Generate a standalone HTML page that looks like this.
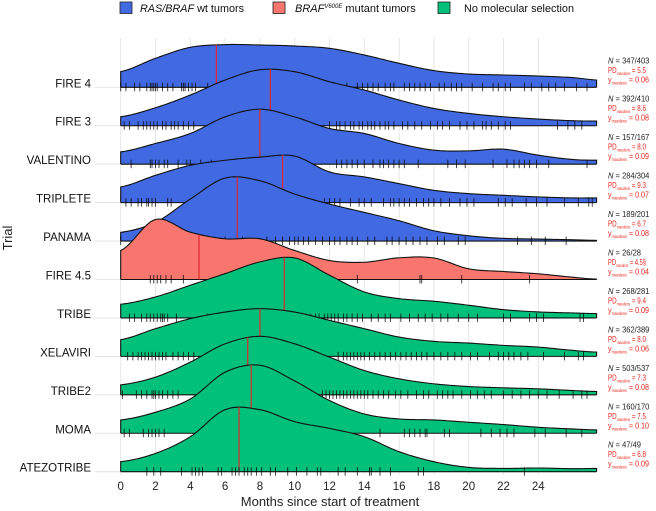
<!DOCTYPE html>
<html><head><meta charset="utf-8">
<style>
html,body{margin:0;padding:0;background:#fff;}
svg{display:block;font-family:"Liberation Sans",sans-serif;}
</style></head>
<body>
<svg id="chart" width="656" height="511" viewBox="0 0 656 511">
  <g id="legend">
    <g>
      <rect x="120" y="2" width="12" height="11.5" fill="#4169E1" stroke="#222" stroke-width="0.8"/>
      <text x="140" y="12" font-size="11" fill="#111" textLength="104" lengthAdjust="spacingAndGlyphs"><tspan font-style="italic">RAS/BRAF</tspan> wt tumors</text>
    </g>
    <g>
      <rect x="273" y="2" width="12" height="11.5" fill="#F8766D" stroke="#222" stroke-width="0.8"/>
      <text x="295" y="12" font-size="11" fill="#111"><tspan font-style="italic">BRAF</tspan><tspan font-size="6" dy="-4" font-style="italic">V600E</tspan><tspan dy="4"> mutant tumors</tspan></text>
    </g>
    <g>
      <rect x="438" y="2" width="12" height="11.5" fill="#00C07A" stroke="#222" stroke-width="0.8"/>
      <text x="464" y="12" font-size="11" fill="#111" textLength="110" lengthAdjust="spacingAndGlyphs">No molecular selection</text>
    </g>
  </g>
  <g id="grid"></g>
  <g id="ridges"></g>
  <g id="ylabels"></g>
  <g id="xticks"></g>
  <g id="annots"></g>
  <text x="12" y="238" font-size="13" fill="#222" text-anchor="middle" transform="rotate(-90 12 238)">Trial</text>
  <text x="330" y="506" font-size="13" fill="#222" text-anchor="middle">Months since start of treatment</text>
</svg>
<script>
const trials = ["FIRE 4","FIRE 3","VALENTINO","TRIPLETE","PANAMA","FIRE 4.5","TRIBE","XELAVIRI","TRIBE2","MOMA","ATEZOTRIBE"];
const groups = ["wt","wt","wt","wt","wt","braf","none","none","none","none","none"];
const months = [0,2,4,6,8,10,12,14,16,18,20,22,24,26,27.35];
const dFIRE4 = [15.7,29,40,42.7,42.3,41.3,39,32.3,24,16.7,13.3,12.3,11.3,9.7,7.3];
const dFIRE3 = [9,18,30.7,45.7,56,54,44,35.7,25.7,17.3,12.3,9,6.7,5,4.7];
const dVALENTINO = [12.3,20.7,30.7,47.3,55,47.3,35.7,30.7,20.7,14,13.3,15,9,4.7,4];
const dTRIPLETE = [15.7,27.3,37.3,42.3,45.5,46.5,30.7,25.7,19,12.3,9,7.3,5.7,4.7,4.7];
const dPANAMA = [8.7,18.7,42,63,60.3,47,37,28.7,20.3,10.3,5.3,2.7,2,1.3,0.7];
const dFIRE45 = [29,60,47.3,40.7,40.7,29,19,17.3,21.7,21.5,10.7,8,5.7,2.3,0.3];
const dTRIBE = [13.7,21,32.7,44.3,56,60,42.7,26,19.3,16.7,12.7,8.3,6,5,4.3];
const dXELAVIRI = [16.7,27.7,37.7,44.3,47.7,44.3,36,27.7,19.3,15,13.3,11,9.3,6,4.3];
const dTRIBE2 = [10,17.7,32.7,51,58.5,51,37.7,24.3,16,11,8.3,7,6,4.3,3.3];
const dMOMA = [13.3,21,34.3,61,68,52.3,32.7,19.3,14.3,13.3,11,8.7,6,4.3,3.3];
const dATEZOTRIBE = [10,18.3,35,62,62,50,43.3,35,20,10,4.3,3.3,3.7,3,3.3];
const densities = [dFIRE4,dFIRE3,dVALENTINO,dTRIPLETE,dPANAMA,dFIRE45,dTRIBE,dXELAVIRI,dTRIBE2,dMOMA,dATEZOTRIBE];
const medians = [5.5,8.6,8.0,9.3,6.7,4.5,9.4,8.0,7.3,7.5,6.8];
const nLabels = ["347/403","392/410","157/167","284/304","189/201","26/28","268/281","362/389","503/537","160/170","47/49"];
const pdLabels = ["5.5","8.6","8.0","9.3","6.7","4.5§","9.4","8.0","7.3","7.5","6.8"];
const yLabels = ["0.06","0.08","0.09","0.07","0.08","0.04","0.09","0.06","0.08","0.10","0.09"];
const xTicks = [0,2,4,6,8,10,12,14,16,18,20,22,24];
const rFIRE4 = [0,0.3,0.8,1.1,1.5,1.7,1.8,1.9,2.0,2.1,2.4,2.7,3.0,3.5,3.6,3.7,3.9,4.1,4.3,5,6,7,8,9,10,11,12,13,13.6,13.9,14.2,14.5,14.8,15.2,15.5,15.7,16.3,16.6,16.9,17.2,17.5,17.8,18.3,18.6,19.0,19.3,19.6,20.2,20.8,21.4,21.7,22.1,22.4,23.2,23.6,24.2,24.6,25.0,25.5,26.2,26.8];
const rFIRE3 = [0.2,0.5,1,1.3,1.5,1.7,1.9,2.1,2.4,2.6,2.9,3.1,3.3,3.6,3.9,4.2,12,12.4,12.6,12.9,13.2,13.4,13.7,13.9,14.2,14.4,14.6,14.9,15.2,15.4,15.7,16.2,16.5,16.9,17.3,17.8,18.2,18.5,18.9,19.5,19.9,20.3,20.8,21,21.3,21.7,22.1,22.4,25.1,25.7,26.1,26.5];
const rVALENTINO = [0.6,1.7,1.8,2,2.2,2.5,2.7,3.3,3.8,4,4.6,5.2,12.4,12.7,13,13.3,13.6,14,14.5,14.9,15.1,15.4,15.7,16,16.3,17.1,18.8,19.3,19.8,21.4,22.2,22.6,22.9,23.2,23.5,23.9,24.6,26.8];
const rTRIPLETE = [0.3,0.6,1,1.2,1.5,1.6,1.8,2,2.7,2.9,11.7,12,12.3,12.6,13.2,13.7,14,14.4,15.1,15.5,15.7,16,16.3,16.6,17,17.4,17.7,18,18.4,18.9,19.5,19.9,20.3,21.7,22.1,22.5,23.3,23.9,24.5,25.5,26.3,26.9,27.1];
const rPANAMA = [0,1,2,3,4,5,6,7,8.4,8.9,9.3,9.7,10,10.2,10.5,10.8,11.2,11.6,12,12.3,12.6,13,13.3,13.6,14.2,14.6,15.3,15.6,16,16.4,16.8,17.2,17.6,18.2,18.6,19.4,19.8,22.8,23.6,24.4,25.6];
const rFIRE45 = [1.7,1.9,2.1,2.3,2.6,2.9,3.6,13.6,17.2,17.3,19.6,23.5];
const rTRIBE = [0.5,0.8,1.2,1.5,1.7,1.9,2.1,2.3,2.4,2.5,2.7,3.2,5,6,7,8,9,10.9,11.2,11.4,11.7,11.9,12.1,12.3,12.5,12.8,13,13.3,13.6,13.9,14.4,14.8,15.2,15.5,16.1,16.6,17.1,17.5,17.9,18.4,18.8,19.4,20,20.5,22,22.4,23.5,23.9,24.3,26.4,26.6];
const rXELAVIRI = [0.4,0.7,1,1.2,1.4,1.6,1.8,2,2.2,2.4,2.6,3,3.3,3.6,3.9,4.2,12.5,12.8,13,13.2,13.4,13.6,13.8,14,14.3,14.6,14.9,15.2,15.5,15.8,16.1,16.4,16.7,17,17.3,17.6,18,18.4,18.8,19.2,19.6,20.1,20.5,21.2,21.7,22,22.3,22.6,23,23.4,24.3,25.5,26.3,26.6];
const rTRIBE2 = [0.1,0.9,1.2,1.5,1.8,1.9,2,2.2,2.4,2.7,3,3.3,11.6,11.8,12,12.2,12.4,12.6,12.8,13,13.2,13.4,13.6,13.8,14,14.2,14.5,14.8,15.1,15.4,15.8,16.1,16.5,17,17.4,17.7,18.2,18.5,18.8,19.1,19.6,20.1,20.5,20.9,21.3,22,22.5,23,23.5,24,24.5,25.2,26,26.5,26.8];
const rMOMA = [0.2,0.5,1.3,1.6,1.8,2.0,2.2,2.5,14.9,16.3,16.6,16.9,17.2,17.5,17.6,18.6,18.9,20.7,21.3,21.8,22.2,22.6,23.8,24.4,25.6,26.5];
const rATEZOTRIBE = [1.5,1.9,2.3,3.5,4.1,4.3,4.5,4.7,5.6,5.8,6.4,6.6,6.8,7.1,7.3,7.5,7.8,8.1,8.6,8.9,9.6,10.1,10.7,11.3,11.5,12.5,12.9,13.6,14.3,14.4,14.9,15.5,17.1,17.4,23.2];
const rugs = [rFIRE4,rFIRE3,rVALENTINO,rTRIPLETE,rPANAMA,rFIRE45,rTRIBE,rXELAVIRI,rTRIBE2,rMOMA,rATEZOTRIBE];

const NS = "http://www.w3.org/2000/svg";
const X0 = 120.7, PXM = 17.4, XMAX = 27.35;
const BASE0 = 87.3, STEP = 38.44;
const colors = {wt:"#4169E1", braf:"#F8766D", none:"#00C07A"};
function xScale(m){ return X0 + m*PXM; }
function baseY(i){ return BASE0 + i*STEP; }
function evalDensity(d, m){
  let i = 0;
  while (i < months.length-2 && m > months[i+1]) i++;
  const t = Math.max(0, Math.min(1, (m - months[i])/(months[i+1]-months[i])));
  const p0 = d[Math.max(0,i-1)], p1 = d[i], p2 = d[i+1], p3 = d[Math.min(d.length-1,i+2)];
  const t2=t*t, t3=t2*t;
  const v = 0.5*((2*p1)+(-p0+p2)*t+(2*p0-5*p1+4*p2-p3)*t2+(-p0+3*p1-3*p2+p3)*t3);
  return Math.max(0, v);
}
function mk(tag, attrs, parent){
  const e = document.createElementNS(NS, tag);
  for (const k in attrs) e.setAttribute(k, attrs[k]);
  parent.appendChild(e);
  return e;
}
const grid = document.getElementById('grid');
xTicks.forEach(function(m){
  const l = mk('line',{x1:xScale(m),x2:xScale(m),y1:38,y2:475,stroke:'#e6e6e6','stroke-width':1},grid);
  
  
});
trials.forEach(function(t,i){
  const l = mk('line',{x1:95,x2:597,y1:baseY(i),y2:baseY(i),stroke:'#e3e3e3','stroke-width':1},grid);
  
  
});
const ridges = document.getElementById('ridges');
trials.forEach(function(name,i){
  const d = densities[i], b = baseY(i);
  const g = mk('g',{},ridges);
  
  
  let pts = [];
  const N = 220;
  for (let k=0;k<=N;k++){ const m = XMAX*k/N; pts.push([xScale(m), b - evalDensity(d,m)]); }
  let dstr = 'M'+xScale(0)+','+b+' '+pts.map(p=>'L'+p[0].toFixed(2)+','+p[1].toFixed(2)).join(' ')+' L'+xScale(XMAX)+','+b+' Z';
  const area = mk('path',{d:dstr,fill:colors[groups[i]],stroke:'none'},g);
  
  
  const lstr = 'M'+xScale(0)+','+b+' '+pts.map(p=>'L'+p[0].toFixed(2)+','+p[1].toFixed(2)).join(' ')+' L'+xScale(XMAX)+','+b;
  const outline = mk('path',{d:lstr,fill:'none',stroke:'#111','stroke-width':1.1},g);
  
  
  const bl = mk('line',{x1:xScale(0),x2:xScale(XMAX),y1:b,y2:b,stroke:'#111','stroke-width':1.1},g);
  
  
  const med = medians[i];
  const ml = mk('line',{x1:xScale(med),x2:xScale(med),y1:b,y2:b-evalDensity(d,med),stroke:'#E0282E','stroke-width':1.2},g);
  
  
  rugs[i].forEach(function(v){
    const r = mk('line',{x1:xScale(v),x2:xScale(v),y1:b-4.5,y2:b+4,stroke:'#000','stroke-width':0.9,'stroke-opacity':0.8},g);
    
    
  });
});
const yl = document.getElementById('ylabels');
trials.forEach(function(name,i){
  const t = mk('text',{x:91,y:baseY(i),'font-size':11.5,'text-anchor':'end',fill:'#111'},yl);
  t.textContent = name;
  
  
});
const xt = document.getElementById('xticks');
xTicks.forEach(function(m){
  const t = mk('text',{x:xScale(m),y:490,'font-size':11.5,'text-anchor':'middle',fill:'#222'},xt);
  t.textContent = m;
  
  
});
const an = document.getElementById('annots');
trials.forEach(function(name,i){
  const b = baseY(i);
  const g = mk('g',{'font-size':8.5},an);
  
  
  const t1 = mk('text',{x:608,y:b-24,fill:'#222',textLength:(nLabels[i].length*4.2+12).toFixed(1),lengthAdjust:'spacingAndGlyphs'},g);
  t1.innerHTML = '<tspan font-style="italic">N</tspan> = '+nLabels[i];
  const t2 = mk('text',{x:608,y:b-14.5,fill:'#E8261E',textLength:38,lengthAdjust:'spacingAndGlyphs'},g);
  t2.innerHTML = 'PD<tspan font-size="4.5" dy="2">maxdens</tspan><tspan dy="-2"> = '+pdLabels[i]+'</tspan>';
  const t3 = mk('text',{x:608,y:b-5,fill:'#E8261E',textLength:41,lengthAdjust:'spacingAndGlyphs'},g);
  t3.innerHTML = 'y<tspan font-size="4.5" dy="2">maxdens</tspan><tspan dy="-2"> = '+yLabels[i]+'</tspan>';
});
</script>
</body></html>
